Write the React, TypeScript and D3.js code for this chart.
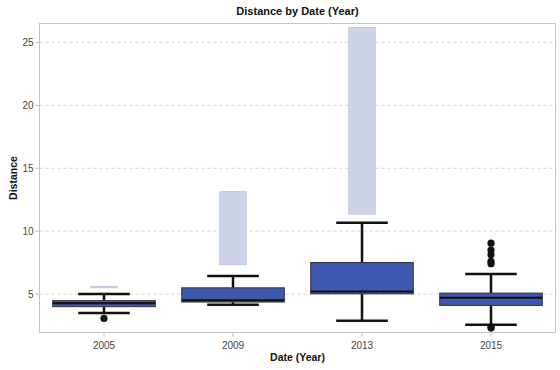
import React from "react";
import * as d3 from "d3";

const years = ["2005", "2009", "2013", "2015"];
const whiskerLow = [3.49, 4.15, 2.88, 2.57];
const boxQ1 = [4.0, 4.37, 5.02, 4.1];
const boxMedian = [4.27, 4.52, 5.21, 4.71];
const boxQ3 = [4.48, 5.5, 7.51, 5.08];
const whiskerHigh = [5.0, 6.43, 10.66, 6.59];
const outliers = [[3.07], [], [], [2.3, 2.4, 7.42, 7.6, 8.12, 8.5, 9.05]];
const bandLow = [5.52, 7.33, 11.35, null];
const bandHigh = [5.62, 13.14, 26.19, null];
const yTicks = [5, 10, 15, 20, 25];

const W = 560;
const H = 370;
const margin = { top: 23.5, right: 4.5, bottom: 37.5, left: 39.5 };
const font = "'Liberation Sans', Arial, sans-serif";

export default function App() {
  const x = d3
    .scaleBand()
    .domain(years)
    .range([margin.left, W - margin.right])
    .padding(0);
  const y = d3
    .scaleLinear()
    .domain([1.95, 26.5])
    .range([H - margin.bottom, margin.top]);

  const bw = x.bandwidth();
  const boxW = bw * 0.795;
  const capW = bw * 0.4;
  const bandW = bw * 0.205;
  const plotL = margin.left;
  const plotR = W - margin.right;
  const plotT = margin.top;
  const plotB = H - margin.bottom;
  const midX = (plotL + plotR) / 2;

  return (
    <svg
      width={W}
      height={H}
      style={{ position: "absolute", left: 0, top: 0, background: "#fff" }}
      fontFamily={font}
    >
      <rect x={0} y={0} width={W} height={H} fill="#fff" />
      {/* grid */}
      {yTicks.map((t) => (
        <g key={t}>
          <line
            x1={plotL}
            x2={plotR}
            y1={y(t)}
            y2={y(t)}
            stroke="#d6d6d6"
            strokeDasharray="3,3"
          />
          <line x1={plotL - 4} x2={plotL} y1={y(t)} y2={y(t)} stroke="#bdbdbd" />
          <text
            x={plotL - 6}
            y={y(t)}
            dy="0.35em"
            textAnchor="end"
            fontSize={10}
            fill="#444"
          >
            {t}
          </text>
        </g>
      ))}

      {years.map((yr, i) => {
        const cx = (x(yr) as number) + bw / 2;
        return (
          <g key={yr}>
            {bandLow[i] != null && (
              <rect
                x={cx - bandW / 2}
                y={y(bandHigh[i] as number)}
                width={bandW}
                height={Math.max(1.5, y(bandLow[i] as number) - y(bandHigh[i] as number))}
                fill="#cdd4e9"
                stroke="#b9c1da"
                strokeWidth={0.8}
              />
            )}
            <line x1={cx} x2={cx} y1={y(boxQ3[i])} y2={y(whiskerHigh[i])} stroke="#111" strokeWidth={2.5} />
            <line x1={cx} x2={cx} y1={y(boxQ1[i])} y2={y(whiskerLow[i])} stroke="#111" strokeWidth={2.5} />
            <line
              x1={cx - capW / 2}
              x2={cx + capW / 2}
              y1={y(whiskerHigh[i])}
              y2={y(whiskerHigh[i])}
              stroke="#111"
              strokeWidth={2.5}
            />
            <line
              x1={cx - capW / 2}
              x2={cx + capW / 2}
              y1={y(whiskerLow[i])}
              y2={y(whiskerLow[i])}
              stroke="#111"
              strokeWidth={2.5}
            />
            <rect
              x={cx - boxW / 2}
              y={y(boxQ3[i])}
              width={boxW}
              height={y(boxQ1[i]) - y(boxQ3[i])}
              fill="#3d59ad"
              stroke="#333"
              strokeWidth={1}
            />
            <line
              x1={cx - boxW / 2}
              x2={cx + boxW / 2}
              y1={y(boxMedian[i])}
              y2={y(boxMedian[i])}
              stroke="#111"
              strokeWidth={2}
            />
            {outliers[i].map((v, j) => (
              <circle key={j} cx={cx} cy={y(v)} r={3.6} fill="#111" />
            ))}
            <line x1={cx} x2={cx} y1={plotB} y2={plotB + 4} stroke="#bdbdbd" />
            <text x={cx} y={plotB + 16} textAnchor="middle" fontSize={10} fill="#444">
              {yr}
            </text>
          </g>
        );
      })}

      <rect
        x={plotL}
        y={plotT}
        width={plotR - plotL}
        height={plotB - plotT}
        fill="none"
        stroke="#c4c4c4"
      />

      <text x={midX} y={15} textAnchor="middle" fontSize={11} fontWeight="bold" fill="#111">
        Distance by Date (Year)
      </text>
      <text x={midX} y={361} textAnchor="middle" fontSize={10.5} fontWeight="bold" fill="#111">
        Date (Year)
      </text>
      <text
        transform={`translate(17,${(plotT + plotB) / 2}) rotate(-90)`}
        textAnchor="middle"
        fontSize={10.5}
        fontWeight="bold"
        fill="#111"
      >
        Distance
      </text>
    </svg>
  );
}
